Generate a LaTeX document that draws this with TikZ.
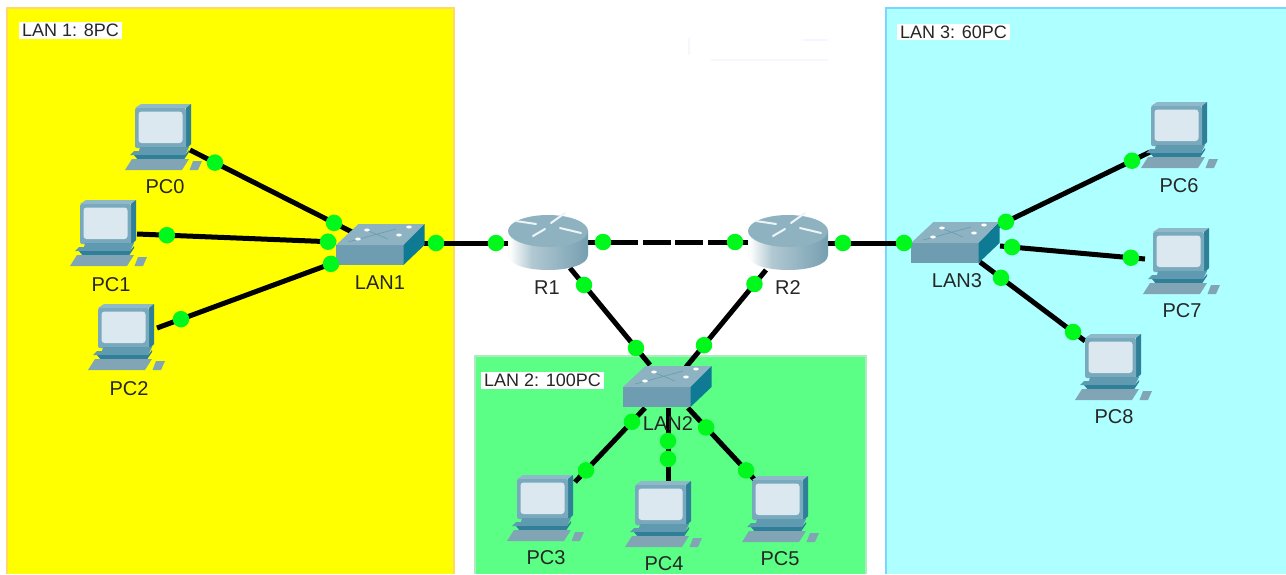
\documentclass[tikz,border=0pt]{standalone}
\usepackage{fontspec}
\setmainfont{Liberation Sans}
\definecolor{rbA}{HTML}{7FA3B3}
\definecolor{rbB}{HTML}{8FB0BF}
\definecolor{rbC}{HTML}{B0C8D2}
\definecolor{rbD}{HTML}{7FA5B5}
\definecolor{rbE}{HTML}{3F7A90}
\pgfdeclarehorizontalshading{routerbody}{100bp}{
  color(0bp)=(rbA); color(12bp)=(rbB); color(26bp)=(white); color(40bp)=(rbC); color(70bp)=(rbD); color(100bp)=(rbE)}
\definecolor{yellowzone}{HTML}{FFFF00}
\definecolor{yellowedge}{HTML}{FFD76A}
\definecolor{cyanzone}{HTML}{AEFFFF}
\definecolor{cyanedge}{HTML}{78D6FF}
\definecolor{greenzone}{HTML}{5CFF85}
\definecolor{greenedge}{HTML}{B0EBC0}
\definecolor{linkgreen}{HTML}{00F81C}
\definecolor{iconface}{HTML}{79A9BC}
\definecolor{icontop}{HTML}{8FB8C8}
\definecolor{iconside}{HTML}{2F7F98}
\definecolor{iconscreen}{HTML}{DCE8EF}
\definecolor{iconbase}{HTML}{5F9AB0}
\definecolor{swfront}{HTML}{6E9CB0}
\definecolor{swtop}{HTML}{8DB3C2}
\definecolor{swside}{HTML}{0F7A94}
\definecolor{rtop}{HTML}{8FB2C0}
\definecolor{smudge}{HTML}{F6F6FE}
\tikzset{
  zone/.style={line width=2pt},
  zonelabel/.style={fill=white,inner xsep=3pt,inner ysep=2pt,font=\fontsize{18}{19}\selectfont,text=black!85},
  devlabel/.style={inner sep=0pt,font=\fontsize{20}{21}\selectfont,text=black!85},
  link/.style={line width=5pt,black},
  dot/.style={circle,fill=linkgreen,draw=none,minimum size=16.5pt,inner sep=0pt},
  pc/.pic={
    \fill[icontop] (10,3)--(16,-1)--(66,-1)--(61,3)--cycle;
    \fill[iconside] (61,3)--(66,-1)--(66,39)--(61,44)--cycle;
    \fill[iconface,rounded corners=2pt] (10,3) rectangle (61,43);
    \fill[iconscreen,rounded corners=3pt] (13.5,6.5) rectangle (57.5,38);
    \fill[iconbase] (15,42)--(64,42)--(60,50)--(5,50)--(9,46)--(14,46)--cycle;
    \fill[iconside] (9,50)--(60,50)--(64,45)--(64,47)--(58,56)--(14,56)--cycle;
    \fill[icontop!90!black] (0,65)--(7,54)--(64,54)--(57,65)--cycle;
    \fill[icontop!90!black] (64.5,65)--(68,56)--(77,56)--(73,65)--cycle;
  },
  switchicon/.pic={
    \fill[swfront] (0,0) rectangle (67.5,20);
    \fill[swtop] (0,0)--(22.5,-21)--(88.5,-21)--(67.5,0)--cycle;
    \fill[swside] (67.5,0)--(88.5,-21)--(88.5,0)--(67.5,20)--cycle;
    \draw[swfront,line width=.7pt] (12,-3)--(60,-16) (30,-15)--(52,-6);
    \fill[white] (31,-15) ellipse (2.8 and 1.5) (73,-18) ellipse (2.8 and 1.5)
                 (63,-10) ellipse (2.8 and 1.5) (22,-6) ellipse (2.8 and 1.5);
  },
  routericon/.pic={
    \shade[shading=routerbody] (-40,0) -- (-40,24) .. controls (-40,44) and (40,44) .. (40,24) -- (40,0) -- cycle;
    \fill[rtop] (0,0) ellipse (40 and 16);
    \draw[white!85!rtop,line width=2pt,line cap=round]
      (-32,-10)--(-12,-7) (17,-18)--(3,-8) (12,-3)--(33,2) (-15,5)--(-3,-2);
  },
}
\begin{document}
\begin{tikzpicture}[x=1pt,y=-1pt]
\useasboundingbox (0,0) rectangle (1286,574);
\fill[white] (0,0) rectangle (1286,574);
% zones
\fill[yellowzone] (7,8) rectangle (454,574);
\draw[zone,yellowedge] (7,574)--(7,8)--(454,8)--(454,574);
\fill[cyanzone] (886,8) rectangle (1286,574);
\draw[zone,cyanedge] (886,574)--(886,8)--(1286,8);
\fill[greenzone] (475,356) rectangle (866,574);
\draw[zone,greenedge] (475,574)--(475,356)--(866,356)--(866,574);
\draw[smudge,line width=1.5pt] (689,38)--(689,55) (711,60)--(828,60) (803,40)--(828,40);
\node[zonelabel,anchor=west] (z1) at (19,30.5) {LAN 1: 8PC};
\node[zonelabel,anchor=west] (z3) at (897,32) {LAN 3: 60PC};
\node[zonelabel,anchor=west] (z2) at (481,380.5) {LAN 2: 100PC};
% ports
\coordinate (pc0p) at (190,150);
\coordinate (pc1p) at (137,234);
\coordinate (pc2p) at (157,328);
\coordinate (pc3p) at (575,482);
\coordinate (pc4p) at (668,482);
\coordinate (pc5p) at (755,480);
\coordinate (pc6p) at (1150,152);
\coordinate (pc7p) at (1145,259);
\coordinate (pc8p) at (1085,341);
\coordinate (sw1a) at (352,232);
\coordinate (sw1b) at (336,242);
\coordinate (sw1c) at (336,262);
\coordinate (sw1d) at (424,243);
\coordinate (r1a) at (510,243);
\coordinate (r1b) at (588,242);
\coordinate (r1c) at (570,268);
\coordinate (r2a) at (748,242);
\coordinate (r2b) at (828,243);
\coordinate (r2c) at (766,270);
\coordinate (sw2a) at (650,365);
\coordinate (sw2b) at (686,367);
\coordinate (sw2c) at (645,408);
\coordinate (sw2d) at (668,408);
\coordinate (sw2e) at (688,408);
\coordinate (sw3a) at (985,232);
\coordinate (sw3b) at (1000,246);
\coordinate (sw3c) at (980,262);
\coordinate (sw3d) at (911,243);
% links
\draw[link] (pc0p)--(sw1a);
\draw[link] (pc1p)--(sw1b);
\draw[link] (pc2p)--(sw1c);
\draw[link] (sw1d)--(r1a);
\draw[link,dash pattern=on 50pt off 5pt on 28pt off 4pt on 28pt off 5pt on 60pt] (r1b)--(r2a);
\draw[link] (r2b)--(sw3d);
\draw[link] (r1c)--(sw2a);
\draw[link] (r2c)--(sw2b);
\draw[link] (sw2c)--(pc3p);
\draw[link] (sw2d)--(pc4p);
\draw[link] (sw2e)--(pc5p);
\draw[link] (sw3a)--(pc6p);
\draw[link] (sw3b)--(pc7p);
\draw[link] (sw3c)--(pc8p);
% devices
\pic at (125,105) {pc};
\pic at (70,201) {pc};
\pic at (88,305) {pc};
\pic at (507,476) {pc};
\pic at (625,482) {pc};
\pic at (742,477) {pc};
\pic at (1141,103) {pc};
\pic at (1143,229) {pc};
\pic at (1075,335) {pc};
\pic at (336,245) {switchicon};
\pic at (623,387) {switchicon};
\pic at (911,243) {switchicon};
\pic at (548,231) {routericon};
\pic at (788,231) {routericon};
% link lights
\path (pc0p)--(sw1a) node[dot,pos=.154] (d01) {} node[dot,pos=.889] (d02) {};
\path (pc1p)--(sw1b) node[dot,pos=.15] (d03) {} node[dot,pos=.96] (d04) {};
\path (pc2p)--(sw1c) node[dot,pos=.134] (d05) {} node[dot,pos=.972] (d06) {};
\path (sw1d)--(r1a) node[dot,pos=.14] (d07) {} node[dot,pos=.837] (d08) {};
\path (r1b)--(r2a) node[dot,pos=.094] (d09) {} node[dot,pos=.919] (d10) {};
\path (r2b)--(sw3d) node[dot,pos=.18] (d11) {} node[dot,pos=.916] (d12) {};
\path (r1c)--(sw2a) node[dot,pos=.175] (d13) {} node[dot,pos=.825] (d14) {};
\path (r2c)--(sw2b) node[dot,pos=.144] (d15) {} node[dot,pos=.775] (d16) {};
\path (sw2c)--(pc3p) node[dot,pos=.186] (d17) {} node[dot,pos=.843] (d18) {};
\path (sw2d)--(pc4p) node[dot,pos=.446] (d19) {} node[dot,pos=.689] (d20) {};
\path (sw2e)--(pc5p) node[dot,pos=.27] (d21) {} node[dot,pos=.866] (d22) {};
\path (sw3a)--(pc6p) node[dot,pos=.127] (d23) {} node[dot,pos=.891] (d24) {};
\path (sw3b)--(pc7p) node[dot,pos=.083] (d25) {} node[dot,pos=.903] (d26) {};
\path (sw3c)--(pc8p) node[dot,pos=.2] (d27) {} node[dot,pos=.886] (d28) {};
% labels
\node[devlabel] (l0) at (165,187) {PC0};
\node[devlabel] (l1) at (111,285) {PC1};
\node[devlabel] (l2) at (129,389) {PC2};
\node[devlabel] (l3) at (546,558) {PC3};
\node[devlabel] (l4) at (664,564) {PC4};
\node[devlabel] (l5) at (780,559) {PC5};
\node[devlabel] (l6) at (1179,186) {PC6};
\node[devlabel] (l7) at (1182,311) {PC7};
\node[devlabel] (l8) at (1114,417) {PC8};
\node[devlabel] (ls1) at (380,283) {LAN1};
\node[devlabel] (ls2) at (668,424) {LAN2};
\node[devlabel] (ls3) at (957,281) {LAN3};
\node[devlabel] (lr1) at (547,288) {R1};
\node[devlabel] (lr2) at (788,288) {R2};
\end{tikzpicture}
\end{document}
